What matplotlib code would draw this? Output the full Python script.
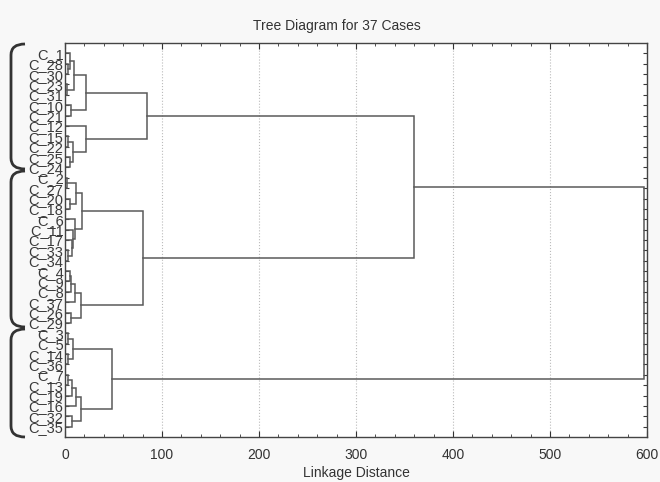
import numpy as np
import matplotlib
matplotlib.use("Agg")
import matplotlib.pyplot as plt
from matplotlib.path import Path
from matplotlib.patches import PathPatch
from matplotlib.ticker import MultipleLocator

plt.rcParams['font.family'] = ['Liberation Sans', 'DejaVu Sans']

# leaf order, top to bottom
leaves = ['C_1', 'C_28', 'C_30', 'C_23', 'C_31', 'C_10', 'C_21', 'C_12', 'C_15', 'C_22',
          'C_25', 'C_24', 'C_2', 'C_27', 'C_20', 'C_18', 'C_6', 'C_11', 'C_17', 'C_33',
          'C_34', 'C_4', 'C_9', 'C_8', 'C_37', 'C_26', 'C_29', 'C_3', 'C_5', 'C_14',
          'C_36', 'C_7', 'C_13', 'C_19', 'C_16', 'C_32', 'C_35']

# merges: node n{i} joins merge_a[i] and merge_b[i] at linkage distance merge_h[i]
merge_a = ['C_28', 'C_1', 'C_23', 'n1', 'C_10', 'n3', 'C_15', 'C_25', 'n6', 'C_12', 'n5',
           'C_2', 'C_20', 'n11', 'C_33', 'C_17', 'C_11', 'C_6', 'n13',
           'C_4', 'n19', 'n20', 'C_26', 'n21', 'n18', 'n10',
           'C_3', 'C_14', 'n26', 'C_7', 'n29', 'n30', 'C_32', 'n31', 'n28', 'n25']
merge_b = ['C_30', 'n0', 'C_31', 'n2', 'C_21', 'n4', 'C_22', 'C_24', 'n7', 'n8', 'n9',
           'C_27', 'C_18', 'n12', 'C_34', 'n14', 'n15', 'n16', 'n17',
           'C_9', 'C_8', 'C_37', 'C_29', 'n22', 'n23', 'n24',
           'C_5', 'C_36', 'n27', 'C_13', 'C_19', 'C_16', 'C_35', 'n32', 'n33', 'n34']
merge_h = [3, 5, 2, 9, 6, 22, 3, 5, 8, 22, 85,
           2, 5, 11, 3, 7, 8, 10, 18,
           5, 6, 10, 6, 16, 80, 360,
           3, 3, 8, 3, 7, 11, 7, 16, 48, 597]

fig = plt.figure(figsize=(6.6, 4.82), dpi=100, facecolor='#f8f8f8')
ax = fig.add_axes([65 / 660, 1 - 437 / 482, 582 / 660, 394 / 482])
ax.set_facecolor('white')

pos = {name: (0.0, i + 1.0) for i, name in enumerate(leaves)}
lc = '#5a5a5a'
for i, (a, b, h) in enumerate(zip(merge_a, merge_b, merge_h)):
    xa, ya = pos[a]
    xb, yb = pos[b]
    ax.plot([xa, h, h, xb], [ya, ya, yb, yb], color=lc, lw=1.1, solid_joinstyle='miter')
    pos['n%d' % i] = (h, (ya + yb) / 2)

ax.set_xlim(0, 600)
ax.set_ylim(len(leaves) + 1, 0)
ax.xaxis.set_major_locator(MultipleLocator(100))
ax.xaxis.set_minor_locator(MultipleLocator(20))
ax.set_yticks(np.arange(1, len(leaves) + 1))
ax.set_yticklabels(leaves)
ax.tick_params(axis='x', which='both', direction='in', top=True, labelsize=10, pad=8, colors='#333333')
ax.tick_params(axis='x', which='major', length=4)
ax.tick_params(axis='x', which='minor', length=2.5)
ax.tick_params(axis='y', direction='in', right=True, length=3, labelsize=10.5, pad=1, colors='#3a3a3a')
ax.grid(axis='x', which='major', color='#bbbbbb', linestyle=':', linewidth=0.8)
for s in ax.spines.values():
    s.set_color('#444444')
    s.set_linewidth(1.0)

fig.text(337 / 660, 1 - 26 / 482, 'Tree Diagram for 37 Cases', fontsize=10, color='#333333',
         ha='center', va='center')
ax.set_xlabel('Linkage Distance', fontsize=10, color='#333333', labelpad=3)

# braces around the three groups, in figure pixels (y from top)
def brace(y0, y1):
    H = 482
    xr, xl, r = 25, 11, 11
    verts = [(xr, H - y0), (xl, H - y0), (xl, H - y0 - r),
             (xl, H - y1 + r),
             (xl, H - y1), (xr, H - y1)]
    codes = [Path.MOVETO, Path.CURVE3, Path.CURVE3, Path.LINETO, Path.CURVE3, Path.CURVE3]
    fig.patches.append(PathPatch(Path(verts, codes), transform=None, fill=False,
                                 edgecolor='#333333', lw=2.0))

group_top = [44, 171, 329]
group_bottom = [169, 327, 437]
for y0, y1 in zip(group_top, group_bottom):
    brace(y0, y1)

fig.savefig('out.png', dpi=100, facecolor=fig.get_facecolor())
